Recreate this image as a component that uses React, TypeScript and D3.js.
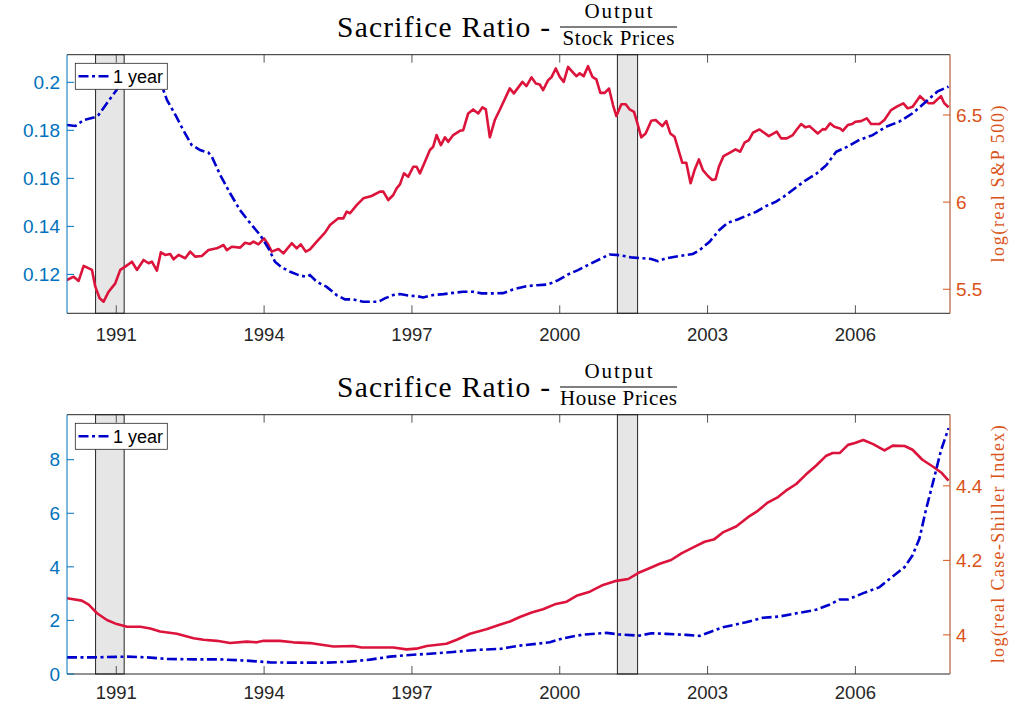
import React from "react";
import * as d3 from "d3";

type P = [number, number];

const xTickYears = [1991, 1994, 1997, 2000, 2003, 2006];
const recessionStart = [1990.58, 2001.17];
const recessionEnd = [1991.16, 2001.58];

const stockLeftTicks = [0.12, 0.14, 0.16, 0.18, 0.2];
const stockRightTicks = [5.5, 6, 6.5];
const houseLeftTicks = [0, 2, 4, 6, 8];
const houseRightTicks = [4, 4.2, 4.4];

// Sacrifice ratio, output / stock prices (1 year) – left axis
const stockRatio: P[] = [
  [1990.0, 0.1822], [1990.17, 0.1818], [1990.34, 0.1843], [1990.54, 0.1853], [1990.64, 0.1864],
  [1990.81, 0.1913], [1990.98, 0.1961], [1991.08, 0.1989], [1991.3, 0.204], [1991.55, 0.2065],
  [1991.78, 0.204], [1991.93, 0.1982], [1992.03, 0.1926], [1992.2, 0.1864], [1992.36, 0.1801],
  [1992.53, 0.1739], [1992.7, 0.1718], [1992.87, 0.1707], [1992.94, 0.169], [1993.11, 0.1614],
  [1993.31, 0.1538], [1993.51, 0.1468], [1993.72, 0.1413], [1993.92, 0.1364], [1994.09, 0.1308],
  [1994.22, 0.1253], [1994.36, 0.1229], [1994.53, 0.1211], [1994.7, 0.1197], [1994.86, 0.119],
  [1994.93, 0.1197], [1995.07, 0.1169], [1995.27, 0.1148], [1995.47, 0.1114], [1995.64, 0.1096],
  [1995.81, 0.1096], [1996.01, 0.1086], [1996.32, 0.1086], [1996.45, 0.11], [1996.62, 0.1114],
  [1996.76, 0.1118], [1996.96, 0.1111], [1997.09, 0.111], [1997.23, 0.1104], [1997.43, 0.1114],
  [1997.64, 0.1118], [1997.84, 0.1123], [1998.04, 0.1128], [1998.24, 0.1128], [1998.41, 0.1121],
  [1998.65, 0.1121], [1998.85, 0.1122], [1999.05, 0.1137], [1999.32, 0.1151], [1999.53, 0.1155],
  [1999.76, 0.1158], [1999.97, 0.1176], [2000.17, 0.12], [2000.37, 0.1218], [2000.57, 0.1239],
  [2000.81, 0.1263], [2001.01, 0.1283], [2001.22, 0.128], [2001.45, 0.1271], [2001.69, 0.1267],
  [2001.86, 0.1264], [2001.99, 0.1255], [2002.16, 0.1267], [2002.4, 0.1276], [2002.7, 0.1285],
  [2002.84, 0.1301], [2003.04, 0.1336], [2003.24, 0.1385], [2003.41, 0.1415], [2003.61, 0.1429],
  [2003.82, 0.1447], [2003.99, 0.1461], [2004.19, 0.1485], [2004.39, 0.1503], [2004.59, 0.153],
  [2004.8, 0.1563], [2005.0, 0.1593], [2005.2, 0.1618], [2005.41, 0.1655], [2005.61, 0.1711],
  [2005.84, 0.1732], [2006.08, 0.176], [2006.35, 0.178], [2006.62, 0.1815], [2006.89, 0.1836],
  [2007.16, 0.1871], [2007.43, 0.1919], [2007.66, 0.1961], [2007.89, 0.1982],
];

// log(real S&P 500) – right axis
const stockLogPrice: P[] = [
  [1990.0, 5.553], [1990.135, 5.572], [1990.236, 5.548], [1990.338, 5.634], [1990.507, 5.611],
  [1990.574, 5.515], [1990.662, 5.448], [1990.743, 5.429], [1990.845, 5.486], [1990.98, 5.534],
  [1991.081, 5.611], [1991.182, 5.63], [1991.318, 5.658], [1991.419, 5.611], [1991.554, 5.668],
  [1991.655, 5.649], [1991.723, 5.658], [1991.824, 5.607], [1991.905, 5.712], [1991.993, 5.697],
  [1992.095, 5.702], [1992.162, 5.672], [1992.264, 5.697], [1992.399, 5.678], [1992.5, 5.716],
  [1992.601, 5.687], [1992.736, 5.691], [1992.872, 5.725], [1993.041, 5.735], [1993.176, 5.754],
  [1993.243, 5.725], [1993.345, 5.744], [1993.514, 5.739], [1993.615, 5.767], [1993.716, 5.76],
  [1993.784, 5.773], [1993.885, 5.758], [1994.0, 5.792], [1994.088, 5.754], [1994.155, 5.716],
  [1994.291, 5.731], [1994.392, 5.706], [1994.561, 5.764], [1994.662, 5.735], [1994.743, 5.758],
  [1994.845, 5.716], [1994.932, 5.729], [1995.068, 5.773], [1995.236, 5.825], [1995.338, 5.869],
  [1995.507, 5.907], [1995.608, 5.907], [1995.676, 5.945], [1995.743, 5.936], [1995.878, 5.983],
  [1996.014, 6.022], [1996.182, 6.035], [1996.351, 6.06], [1996.419, 6.06], [1996.52, 6.012],
  [1996.622, 6.041], [1996.689, 6.079], [1996.757, 6.102], [1996.838, 6.165], [1996.926, 6.146],
  [1997.027, 6.203], [1997.095, 6.203], [1997.162, 6.165], [1997.264, 6.232], [1997.365, 6.299],
  [1997.432, 6.318], [1997.5, 6.385], [1997.588, 6.327], [1997.669, 6.372], [1997.736, 6.346],
  [1997.838, 6.385], [1997.973, 6.409], [1998.041, 6.413], [1998.142, 6.509], [1998.243, 6.532],
  [1998.345, 6.509], [1998.432, 6.544], [1998.5, 6.532], [1998.581, 6.372], [1998.682, 6.471],
  [1998.784, 6.53], [1998.986, 6.653], [1999.068, 6.624], [1999.243, 6.69], [1999.324, 6.666],
  [1999.426, 6.716], [1999.514, 6.681], [1999.595, 6.675], [1999.662, 6.643], [1999.764, 6.7],
  [1999.831, 6.716], [1999.919, 6.767], [2000.0, 6.719], [2000.081, 6.69], [2000.169, 6.776],
  [2000.257, 6.748], [2000.338, 6.723], [2000.405, 6.739], [2000.486, 6.723], [2000.574, 6.78],
  [2000.662, 6.719], [2000.743, 6.704], [2000.824, 6.627], [2000.912, 6.627], [2001.0, 6.652],
  [2001.081, 6.557], [2001.149, 6.494], [2001.25, 6.562], [2001.338, 6.562], [2001.419, 6.532],
  [2001.507, 6.518], [2001.568, 6.461], [2001.655, 6.372], [2001.743, 6.394], [2001.858, 6.467],
  [2001.946, 6.471], [2002.081, 6.436], [2002.162, 6.465], [2002.243, 6.394], [2002.331, 6.375],
  [2002.486, 6.226], [2002.568, 6.226], [2002.655, 6.108], [2002.736, 6.184], [2002.824, 6.245],
  [2002.905, 6.184], [2003.007, 6.15], [2003.095, 6.127], [2003.162, 6.131], [2003.23, 6.203],
  [2003.324, 6.264], [2003.446, 6.283], [2003.568, 6.303], [2003.662, 6.289], [2003.75, 6.341],
  [2003.838, 6.356], [2003.919, 6.398], [2004.054, 6.417], [2004.243, 6.379], [2004.405, 6.404],
  [2004.493, 6.366], [2004.608, 6.366], [2004.73, 6.385], [2004.811, 6.417], [2004.899, 6.448],
  [2004.986, 6.429], [2005.068, 6.436], [2005.236, 6.394], [2005.338, 6.419], [2005.392, 6.417],
  [2005.486, 6.452], [2005.574, 6.432], [2005.689, 6.423], [2005.743, 6.409], [2005.845, 6.442],
  [2005.932, 6.448], [2006.0, 6.461], [2006.115, 6.465], [2006.23, 6.481], [2006.318, 6.448],
  [2006.486, 6.448], [2006.588, 6.471], [2006.723, 6.528], [2006.858, 6.551], [2006.973, 6.567],
  [2007.061, 6.538], [2007.162, 6.547], [2007.311, 6.608], [2007.399, 6.585], [2007.486, 6.567],
  [2007.581, 6.567], [2007.736, 6.608], [2007.804, 6.567], [2007.892, 6.544],
];

// Sacrifice ratio, output / house prices (1 year) – left axis
const houseRatio: P[] = [
  [1990.0, 0.622], [1990.54, 0.622], [1991.22, 0.648], [1991.62, 0.622], [1992.03, 0.562],
  [1992.57, 0.547], [1993.11, 0.547], [1993.65, 0.498], [1994.12, 0.435], [1994.59, 0.423],
  [1995.27, 0.423], [1995.74, 0.461], [1996.15, 0.536], [1996.55, 0.648], [1996.96, 0.711],
  [1997.3, 0.749], [1997.84, 0.824], [1998.31, 0.899], [1998.78, 0.936], [1999.19, 1.06],
  [1999.8, 1.184], [2000.07, 1.333], [2000.47, 1.472], [2000.95, 1.536], [2001.22, 1.472],
  [2001.62, 1.434], [2001.86, 1.521], [2002.16, 1.498], [2002.57, 1.461], [2002.84, 1.423],
  [2003.04, 1.558], [2003.31, 1.745], [2003.78, 1.933], [2004.12, 2.097], [2004.46, 2.146],
  [2004.86, 2.285], [2005.2, 2.397], [2005.47, 2.584], [2005.68, 2.783], [2005.85, 2.783],
  [2006.16, 3.019], [2006.49, 3.244], [2006.7, 3.558], [2007.0, 3.993], [2007.16, 4.431],
  [2007.3, 5.056], [2007.43, 6.116], [2007.57, 7.116], [2007.74, 8.363], [2007.89, 9.176],
];

// log(real Case-Shiller Index) – right axis
const houseLogPrice: P[] = [
  [1990.0, 4.0985], [1990.3, 4.092], [1990.44, 4.081], [1990.61, 4.058], [1990.81, 4.04],
  [1991.01, 4.029], [1991.22, 4.022], [1991.49, 4.022], [1991.69, 4.017], [1991.89, 4.009],
  [1992.23, 4.003], [1992.57, 3.991], [1992.77, 3.987], [1993.04, 3.984], [1993.31, 3.978],
  [1993.65, 3.982], [1993.85, 3.98], [1993.99, 3.984], [1994.32, 3.984], [1994.59, 3.98],
  [1994.93, 3.978], [1995.2, 3.973], [1995.41, 3.969], [1995.81, 3.97], [1995.98, 3.966],
  [1996.35, 3.966], [1996.62, 3.966], [1996.89, 3.961], [1997.09, 3.963], [1997.3, 3.97],
  [1997.7, 3.976], [1997.91, 3.987], [1998.18, 4.003], [1998.51, 4.015], [1998.78, 4.027],
  [1998.99, 4.036], [1999.19, 4.048], [1999.43, 4.06], [1999.66, 4.069], [1999.9, 4.082],
  [2000.14, 4.089], [2000.34, 4.105], [2000.61, 4.116], [2000.88, 4.134], [2001.15, 4.145],
  [2001.39, 4.15], [2001.59, 4.166], [2001.82, 4.179], [2002.03, 4.191], [2002.26, 4.201],
  [2002.47, 4.219], [2002.7, 4.234], [2002.94, 4.25], [2003.14, 4.257], [2003.31, 4.275],
  [2003.58, 4.291], [2003.82, 4.316], [2004.02, 4.333], [2004.22, 4.355], [2004.43, 4.37],
  [2004.59, 4.387], [2004.8, 4.405], [2005.0, 4.431], [2005.2, 4.454], [2005.41, 4.481],
  [2005.54, 4.488], [2005.68, 4.488], [2005.85, 4.51], [2005.99, 4.515], [2006.16, 4.523],
  [2006.36, 4.512], [2006.59, 4.495], [2006.76, 4.508], [2007.0, 4.507], [2007.16, 4.497],
  [2007.36, 4.47], [2007.57, 4.452], [2007.74, 4.436], [2007.89, 4.414],
];

const X0 = 67;
const X1 = 950;
const LEFT_COLOR = "#0072BD";
const RIGHT_COLOR = "#D95319";
const RED = "#dc143c";
const BLUE = "#0000cc";
const DASH = "10,3.5,3,3.5";
const SANS = "'Liberation Sans', Arial, Helvetica, sans-serif";
const SERIF = "'Liberation Serif', 'Times New Roman', serif";

const fmt = (v: number) => String(+v.toFixed(3));

interface PanelProps {
  id: string;
  top: number;
  bottom: number;
  xLabelOffset: number;
  leftDomain: [number, number];
  rightDomain: [number, number];
  leftTicks: number[];
  rightTicks: number[];
  ratio: P[];
  logPrice: P[];
  denom: string;
  denomWidth: number;
  yLabel: string;
  yLabelLen: number;
}

function Panel(p: PanelProps) {
  const x = d3.scaleLinear().domain([1990, 2007.92]).range([X0, X1]);
  const yl = d3.scaleLinear().domain(p.leftDomain).range([p.bottom, p.top]);
  const yr = d3.scaleLinear().domain(p.rightDomain).range([p.bottom, p.top]);
  const lineL = d3.line<P>().x((d) => x(d[0])).y((d) => yl(d[1]));
  const lineR = d3.line<P>().x((d) => x(d[0])).y((d) => yr(d[1]));
  const h = p.bottom - p.top;
  const midY = (p.top + p.bottom) / 2;
  const tl = 8;
  return (
    <g>
      <defs>
        <clipPath id={p.id}>
          <rect x={X0} y={p.top} width={X1 - X0} height={h} />
        </clipPath>
      </defs>
      {/* title */}
      <text x={337} y={p.top - 17.4} fontFamily={SERIF} fontSize={29.5} fill="#000"
        textLength={213} lengthAdjust="spacing">Sacrifice Ratio -</text>
      <text x={618.5} y={p.top - 36.4} fontFamily={SERIF} fontSize={21} fill="#000"
        textAnchor="middle" textLength={68} lengthAdjust="spacing">Output</text>
      <line x1={560} x2={677} y1={p.top - 27.7} y2={p.top - 27.7} stroke="#000" strokeWidth={1.1} />
      <text x={618.5} y={p.top - 9.7} fontFamily={SERIF} fontSize={21} fill="#000"
        textAnchor="middle" textLength={p.denomWidth} lengthAdjust="spacing">{p.denom}</text>

      {/* recessions */}
      {recessionStart.map((s, i) => (
        <rect key={i} x={x(s)} y={p.top} width={x(recessionEnd[i]) - x(s)} height={h}
          fill="#e6e6e6" stroke="#222" strokeWidth={1} />
      ))}

      {/* x ticks */}
      {xTickYears.map((yv) => (
        <g key={yv}>
          <line x1={x(yv)} x2={x(yv)} y1={p.bottom} y2={p.bottom - tl} stroke="#555" strokeWidth={1} />
          <line x1={x(yv)} x2={x(yv)} y1={p.top} y2={p.top + tl} stroke="#555" strokeWidth={1} />
          <text x={x(yv)} y={p.bottom + p.xLabelOffset} textAnchor="middle" fontFamily={SANS} fontSize={18.5}
            fill="#262626">{yv}</text>
        </g>
      ))}

      {/* lines */}
      <g clipPath={`url(#${p.id})`}>
        <path d={lineR(p.logPrice) || ""} fill="none" stroke={RED} strokeWidth={2.6}
          strokeLinejoin="round" />
        <path d={lineL(p.ratio) || ""} fill="none" stroke={BLUE} strokeWidth={2.6}
          strokeDasharray={DASH} />
      </g>

      {/* box */}
      <line x1={X0} x2={X1} y1={p.top} y2={p.top} stroke="#262626" strokeWidth={1} />
      <line x1={X0} x2={X1} y1={p.bottom} y2={p.bottom} stroke="#262626" strokeWidth={1} />
      <line x1={X0} x2={X0} y1={p.top} y2={p.bottom} stroke={LEFT_COLOR} strokeWidth={1} />
      <line x1={X1} x2={X1} y1={p.top} y2={p.bottom} stroke="#b0603a" strokeWidth={1.2} />

      {/* left ticks */}
      {p.leftTicks.map((t) => (
        <g key={"l" + t}>
          <line x1={X0} x2={X0 + 7} y1={yl(t)} y2={yl(t)} stroke={LEFT_COLOR} strokeWidth={1} />
          <text x={X0 - 7} y={yl(t)} dy="0.35em" textAnchor="end" fontFamily={SANS} fontSize={19}
            fill={LEFT_COLOR}>{fmt(t)}</text>
        </g>
      ))}
      {/* right ticks */}
      {p.rightTicks.map((t) => (
        <g key={"r" + t}>
          <line x1={X1 - 7} x2={X1} y1={yr(t)} y2={yr(t)} stroke={RIGHT_COLOR} strokeWidth={1} />
          <text x={X1 + 6} y={yr(t)} dy="0.35em" textAnchor="start" fontFamily={SANS} fontSize={19}
            fill={RIGHT_COLOR}>{fmt(t)}</text>
        </g>
      ))}
      <text transform={`translate(1004,${midY}) rotate(-90)`} textAnchor="middle" fontFamily={SERIF}
        fontSize={18} fill={RIGHT_COLOR} textLength={p.yLabelLen} lengthAdjust="spacing">{p.yLabel}</text>

      {/* legend */}
      <rect x={75.3} y={p.top + 8.6} width={92} height={26} fill="#fff" stroke="#262626" strokeWidth={0.8} />
      <line x1={78.5} x2={109.5} y1={p.top + 21.5} y2={p.top + 21.5} stroke={BLUE} strokeWidth={2.6}
        strokeDasharray={DASH} />
      <text x={113} y={p.top + 28.4} fontFamily={SANS} fontSize={18} fill="#000">1 year</text>
    </g>
  );
}

export default function App() {
  return (
    <svg width={1023} height={704} style={{ position: "absolute", left: 0, top: 0, background: "#fff" }}>
      <rect x={0} y={0} width={1023} height={704} fill="#fff" />
      <Panel id="clipTop" top={54.7} bottom={313.3} xLabelOffset={27.5} leftDomain={[0.1038, 0.2115]}
        rightDomain={[5.362, 6.846]} leftTicks={stockLeftTicks} rightTicks={stockRightTicks}
        ratio={stockRatio} logPrice={stockLogPrice}
        denom="Stock Prices" denomWidth={112} yLabel="log(real S&P 500)" yLabelLen={157} />
      <Panel id="clipBottom" top={414.7} bottom={674} xLabelOffset={25.3} leftDomain={[0, 9.68]}
        rightDomain={[3.895, 4.591]} leftTicks={houseLeftTicks} rightTicks={houseRightTicks}
        ratio={houseRatio} logPrice={houseLogPrice}
        denom="House Prices" denomWidth={117} yLabel="log(real Case-Shiller Index)" yLabelLen={238} />
    </svg>
  );
}
